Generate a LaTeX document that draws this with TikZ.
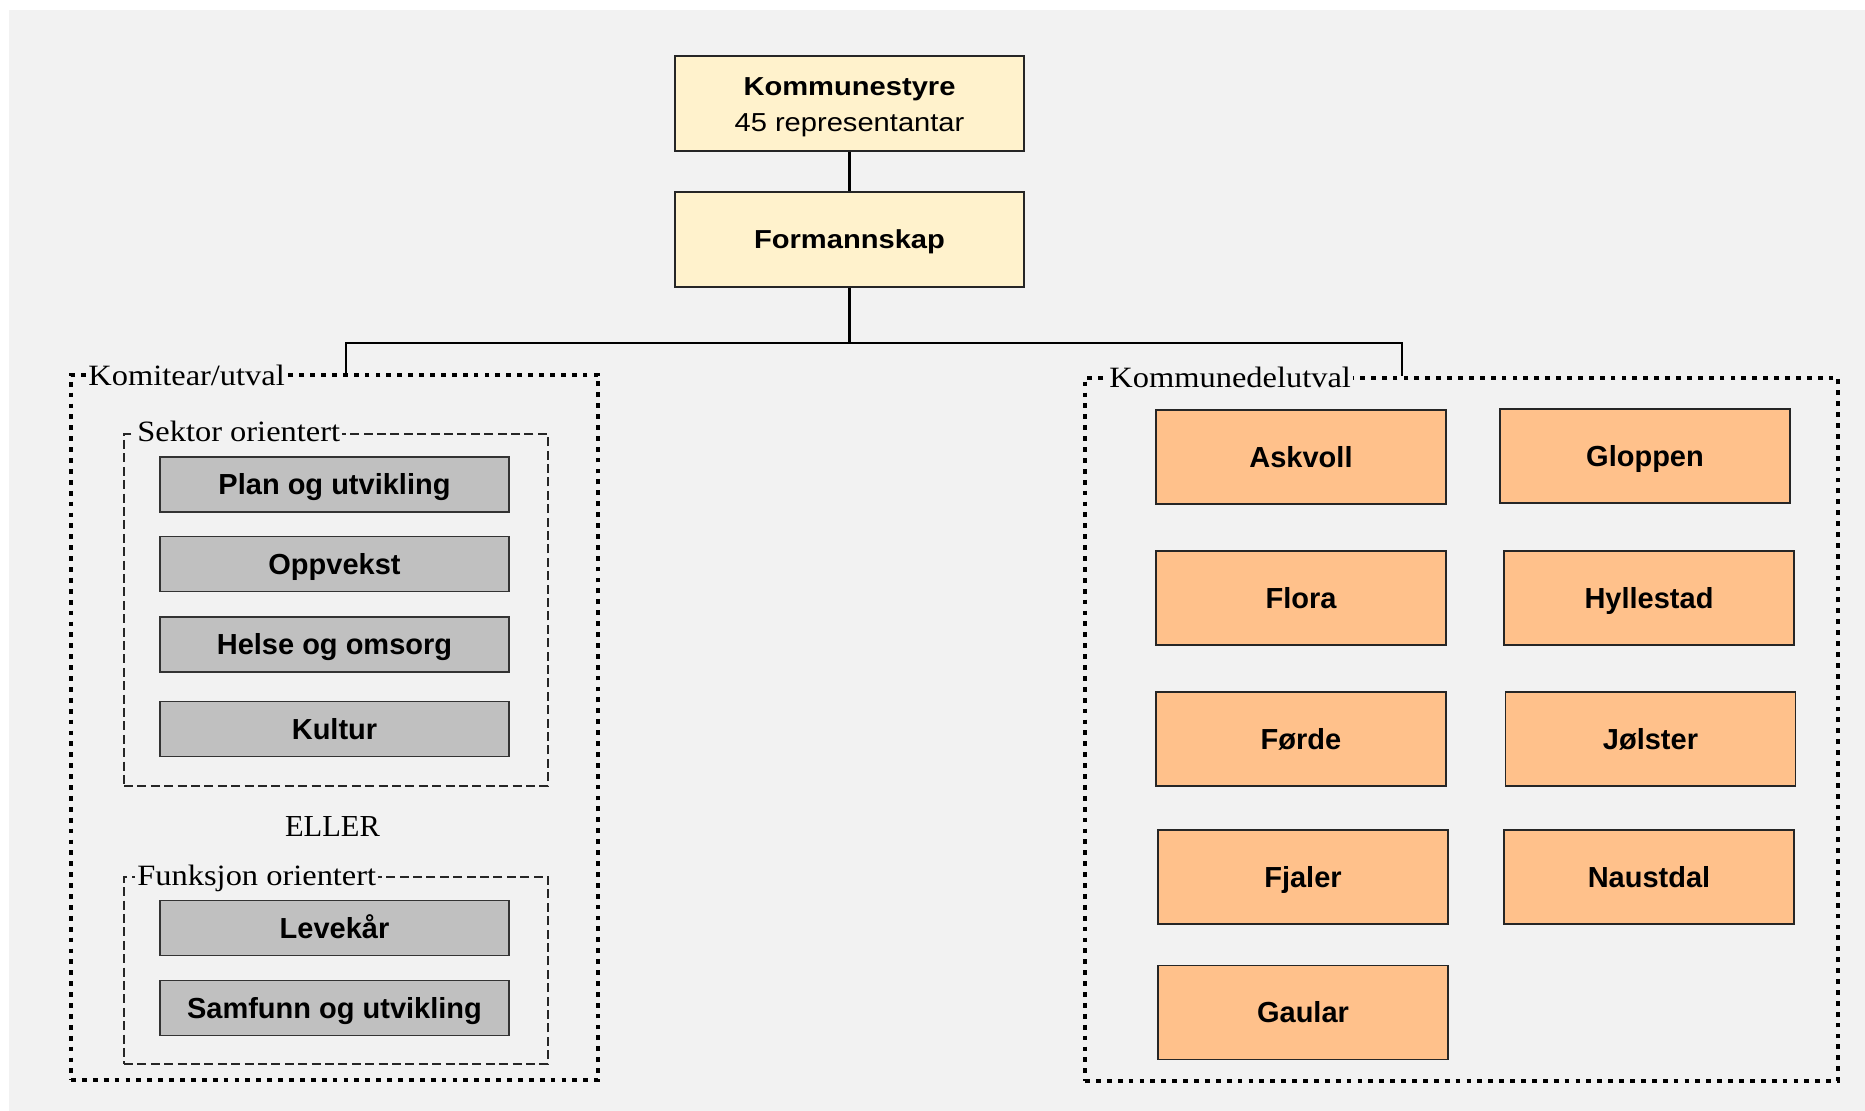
\documentclass[tikz,border=0pt]{standalone}
\usepackage{fontspec}
\setmainfont{Liberation Sans}
\newfontfamily\topfont{Liberation Sans}[FakeStretch=1.12]
\newfontfamily\labfont{Liberation Serif}[FakeStretch=1.1]
\newfontfamily\ellerfont{Liberation Serif}
\definecolor{bg}{HTML}{F2F2F2}
\definecolor{topfill}{HTML}{FFF2CC}
\definecolor{orfill}{HTML}{FFC18B}
\definecolor{grfill}{HTML}{C0C0C0}
\begin{document}
\begin{tikzpicture}[x=0.5pt,y=-0.5pt,
  topbox/.style={draw=black!85, line width=0.7pt, fill=topfill, minimum width=174.5pt, minimum height=47.5pt, inner sep=0pt},
  toptxt/.style={anchor=base, inner sep=0pt, font=\topfont\fontsize{13pt}{15pt}\selectfont},
  grbox/.style={draw=black!80, line width=0.7pt, fill=grfill, minimum width=174.5pt, minimum height=27.5pt, inner sep=0pt, font=\bfseries\fontsize{14.5pt}{17pt}\selectfont, text height=10.4pt, text depth=0pt},
  orbox/.style={draw=black!85, line width=0.7pt, fill=orfill, minimum width=145pt, minimum height=47pt, inner sep=0pt, font=\bfseries\fontsize{14.5pt}{17pt}\selectfont, text height=10.4pt, text depth=0pt},
  grp/.style={draw=black, line width=2.4pt, dash pattern=on 2.4pt off 3.05pt, inner sep=0pt},
  subgrp/.style={draw=black!85, line width=0.65pt, dash pattern=on 4.5pt off 2.2pt, inner sep=0pt},
  lab/.style={anchor=base west, fill=bg, inner xsep=1pt, inner ysep=0pt, font=\labfont\fontsize{14.75pt}{17pt}\selectfont},
  conn/.style={draw=black, line width=1.1pt, line join=miter}]

\useasboundingbox (0,0) rectangle (1865,1111);
\fill[white] (0,0) rectangle (1865,1111);
\fill[bg] (9,10) rectangle (1865,1111);

% containers
\node[grp, minimum width=263.5pt, minimum height=352.5pt] (leftgrp) at (334.5,727.5) {};
\node[grp, minimum width=376.5pt, minimum height=351.5pt] (rightgrp) at (1461.5,729.5) {};
\node[subgrp, minimum width=212pt, minimum height=176pt] (sektor) at (336,610) {};
\node[subgrp, minimum width=212pt, minimum height=93.5pt] (funksjon) at (336,970.5) {};

% labels
\node[lab] (labK) at (86,386) {Komitear/utval};
\node[lab] (labR) at (1107,388) {Kommunedelutval};
\node[lab] (labS) at (135,442) {Sektor orientert};
\node[lab] (labF) at (135,886) {Funksjon orientert};
\node[anchor=base, inner sep=0pt, font=\ellerfont\fontsize{15.25pt}{17pt}\selectfont] (eller) at (332.5,837) {ELLER};

% top boxes
\node[topbox] (K) at (849.5,103.5) {};
\node[toptxt] (Kt1) at (849.5,96) {\bfseries Kommunestyre};
\node[toptxt] (Kt2) at (849.5,131.7) {45 representantar};
\node[topbox, font=\topfont\bfseries\fontsize{13pt}{15pt}\selectfont, text height=9.3pt, text depth=0pt] (F) at (849.5,239.5) {Formannskap};

% gray boxes
\node[grbox] (plan) at (334.5,484.5) {Plan og utvikling};
\node[grbox] (oppv) at (334.5,564) {Oppvekst};
\node[grbox] (helse) at (334.5,644.5) {Helse og omsorg};
\node[grbox] (kultur) at (334.5,729) {Kultur};
\node[grbox] (leve) at (334.5,928) {Levekår};
\node[grbox] (samf) at (334.5,1008) {Samfunn og utvikling};

% orange boxes
\node[orbox] (askvoll) at (1301,457) {Askvoll};
\node[orbox] (gloppen) at (1645,456) {Gloppen};
\node[orbox] (flora) at (1301,598) {Flora};
\node[orbox] (hyll) at (1649,598) {Hyllestad};
\node[orbox] (forde) at (1301,739) {Førde};
\node[orbox] (jolster) at (1650.5,739) {Jølster};
\node[orbox] (fjaler) at (1303,877) {Fjaler};
\node[orbox] (naustdal) at (1649,877) {Naustdal};
\node[orbox] (gaular) at (1303,1012.5) {Gaular};

% connectors
\coordinate (bus) at (849.5,343);
\coordinate (lj) at (346,343);
\coordinate (rj) at (1402,343);
\draw[conn] (K.south) -- (F.north);
\draw[conn] (F.south) -- (bus);
\draw[conn] (lj |- leftgrp.north) -- (lj) -- (rj) -- (rj |- rightgrp.north);
\end{tikzpicture}
\end{document}
